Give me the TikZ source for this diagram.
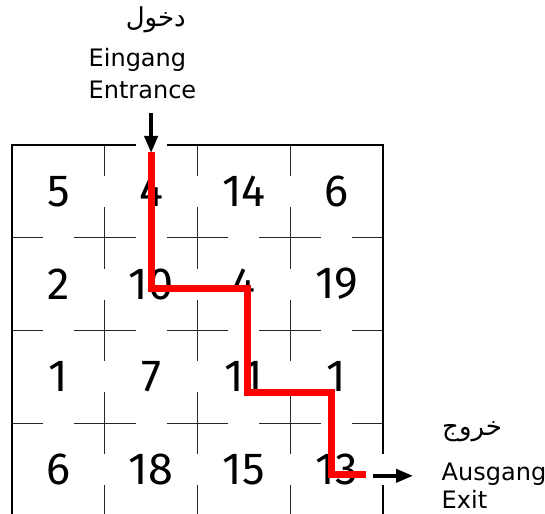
\documentclass[tikz,border=0pt]{standalone}
\usepackage{fontspec}
\setmainfont{DejaVu Sans}
\newfontfamily\numfont[Numbers=Proportional]{Fira Sans}
\newfontfamily\arabicfont[Script=Arabic]{DejaVu Sans}
\TeXXeTstate=1
\usetikzlibrary{arrows.meta}
\tikzset{
  gridline/.style={line width=0.8pt, black!85, dash pattern=on 61.83pt off 30.92pt, dash phase=30.92pt},
  border/.style={line width=1.8pt, black},
  numlabel/.style={inner sep=0pt, font=\numfont\fontsize{45}{45}\selectfont},
  txtlabel/.style={inner sep=0pt, font=\fontsize{24}{24}\selectfont},
  arlabel/.style={inner sep=0pt, font=\arabicfont\fontsize{26}{26}\selectfont},
  route/.style={line width=7pt, red, line join=miter},
  flow/.style={line width=3.8pt, -{Triangle[length=17pt,width=13pt]}}
}
\begin{document}
\begin{tikzpicture}[x=1pt,y=-1pt]
\useasboundingbox (0,0) rectangle (545,513);
\clip (0,0) rectangle (545,513);
% inner grid lines
\foreach \k in {1,2,3}{
  \draw[gridline] ({12+\k*92.75},145) -- ({12+\k*92.75},516);
  \draw[gridline] (12,{145+\k*92.75}) -- (383,{145+\k*92.75});
}
% border
\draw[border] (12,520) -- (12,145) -- (135.6,145);
\draw[border] (166.6,145) -- (383,145) -- (383,454.2);
\draw[border] (383,485.1) -- (383,520);
% numbers
\foreach \row/\vals in {0/{5,4,14,6},1/{2,10,4,19},2/{1,7,11,1},3/{6,18,15,13}}{
  \foreach \v [count=\c from 0] in \vals{
    \node[numlabel] (n\row\c) at ({12+(\c+0.5)*92.75},{145+(\row+0.5)*92.75}) {\v};
  }
}
% route
\coordinate (p0) at (151.1,152);
\coordinate (p1) at (151.1,288);
\coordinate (p2) at (247.5,288);
\coordinate (p3) at (247.5,392);
\coordinate (p4) at (331,392);
\coordinate (p5) at (331,474.5);
\coordinate (p6) at (366,474.5);
\draw[route] (p0) -- (p1) -- (p2) -- (p3) -- (p4) -- (p5) -- (p6);
% arrows
\coordinate (inA) at (151.1,113);
\coordinate (inB) at (151.1,153);
\draw[flow] (inA) -- (inB);
\coordinate (exA) at (372.7,475.8);
\coordinate (exB) at (413,475.8);
\draw[flow] (exA) -- (exB);
% labels
\node[arlabel, anchor=base east] (arin) at (186,26.7) {\beginR دخول\endR};
\node[txtlabel, anchor=base west] (ein) at (88.5,66.7) {Eingang};
\node[txtlabel, anchor=base west] (ent) at (88.5,99) {Entrance};
\node[arlabel, anchor=base west] (arex) at (442,435) {\beginR خروج\endR};
\node[txtlabel, anchor=base west] (aus) at (441.5,480) {Ausgang};
\node[txtlabel, anchor=base west] (exi) at (441.5,508) {Exit};
\end{tikzpicture}
\end{document}
